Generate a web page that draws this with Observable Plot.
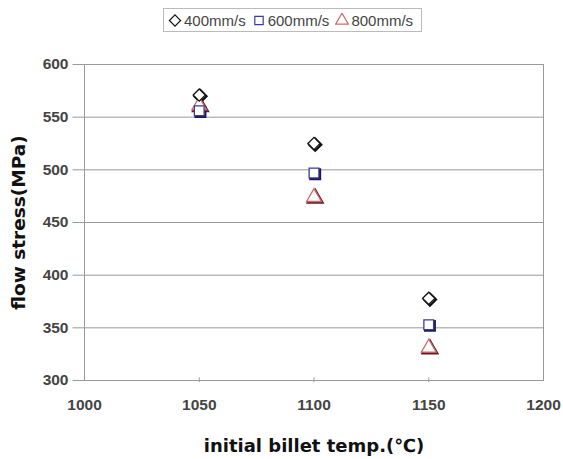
<!DOCTYPE html>
<html><head><meta charset="utf-8">
<script src="https://cdn.jsdelivr.net/npm/d3@7"></script>
<script src="https://cdn.jsdelivr.net/npm/@observablehq/plot@0.6"></script>
<style>
body{margin:0;background:#fff;font-family:"Liberation Sans",Arial,sans-serif;}
#legend{height:38px;position:relative;}
#legend .box{position:absolute;left:163px;top:8px;height:22px;border:1px solid #bbb;display:flex;align-items:center;padding:0 8px 0 4px;font-size:15px;color:#444;white-space:nowrap;}
#legend .item{display:flex;align-items:center;margin-right:6px;}
#legend .item:last-child{margin-right:0;}
#legend svg{margin-right:2px;}
</style></head><body>
<div id="legend"></div>
<div id="chart"></div>
<script>
const temps = [1050, 1100, 1150];
const series = ["400mm/s", "600mm/s", "800mm/s"];
const v400 = [571, 525, 378];
const v600 = [556, 497, 353];
const v800 = [561, 474, 331];
const xTicks = [1000, 1050, 1100, 1150, 1200];
const yTicks = [300, 350, 400, 450, 500, 550, 600];

const symbols = {"400mm/s": "diamond2", "600mm/s": "square", "800mm/s": "triangle"};
const colors = {"400mm/s": "#111111", "600mm/s": "#3a3aa8", "800mm/s": "#d46a6a"};
const shadows = {"400mm/s": "#111111", "600mm/s": "#1a1a50", "800mm/s": "#5a2020"};

const data = [];
[v400, v600, v800].forEach((vals, si) => {
  vals.forEach((v, i) => data.push({temp: temps[i], stress: v, series: series[si]}));
});

// legend
const leg = d3.select("#legend").append("div").attr("class","box");
series.forEach(s => {
  const it = leg.append("div").attr("class","item");
  const sv = it.append("svg").attr("width",14).attr("height",14);
  const sym = d3.symbol().type(s==="400mm/s"?d3.symbolDiamond2:s==="600mm/s"?d3.symbolSquare:d3.symbolTriangle).size(s==="400mm/s"?80:70)();
  sv.append("path").attr("d",sym).attr("transform","translate(7,7.5)").attr("fill","none").attr("stroke",colors[s]).attr("stroke-width",1.2);
  it.append("span").text(s);
});

const order = ["800mm/s","600mm/s","400mm/s"];
const sorted = order.flatMap(s => data.filter(d => d.series === s));

const titleFont = "'DejaVu Sans', 'Liberation Sans', sans-serif";

const plot = Plot.plot({
  width: 563,
  height: 421,
  marginLeft: 84,
  marginRight: 20,
  marginTop: 26,
  marginBottom: 79,
  style: {fontFamily: "'Liberation Sans', Arial, sans-serif", background: "#fff"},
  x: {domain: [1000, 1200], ticks: xTicks, label: null, tickSize: 0, tickFormat: "d"},
  y: {domain: [300, 600], ticks: yTicks, label: null, tickSize: 0},
  marks: [
    Plot.gridY(yTicks.filter(t => t > 300 && t < 600), {stroke: "#999", strokeOpacity: 1, strokeWidth: 1}),
    Plot.frame({stroke: "#999", strokeWidth: 1}),
    Plot.ruleX(xTicks.slice(1, -1), {x: d => d, y1: 298, y2: 302.5, stroke: "#999", clip: false}),
    Plot.ruleY(yTicks, {y: d => d, x1: 995, x2: 1000, stroke: "#999", clip: false}),
    Plot.axisX(xTicks, {tickSize: 0, tickPadding: 18, fontSize: 15.5, fontWeight: "bold", fill: "#444", tickFormat: "d"}),
    Plot.axisY(yTicks, {tickSize: 0, tickPadding: 16, fontSize: 15.5, fontWeight: "bold", fill: "#444"}),
    // shadows
    Plot.dot(sorted, {x: "temp", y: "stress", symbol: d => symbols[d.series], r: 5.5, dx: 1.2, dy: 1.2, fill: "none", stroke: d => shadows[d.series], strokeWidth: 2.2}),
    Plot.dot(sorted, {x: "temp", y: "stress", symbol: d => symbols[d.series], r: 5.5, fill: "white", stroke: d => colors[d.series], strokeWidth: 1.3}),
    Plot.text(["flow stress(MPa)"], {frameAnchor: "left", textAnchor: "middle", lineAnchor: "middle", dx: -65, rotate: -90, fontSize: 18.5, fontWeight: "bold", fill: "#111", fontFamily: titleFont}),
    Plot.text(["initial billet temp.(℃)"], {frameAnchor: "bottom", textAnchor: "middle", lineAnchor: "middle", dy: 66, fontSize: 18, fontWeight: "bold", fill: "#111", fontFamily: titleFont})
  ]
});
document.getElementById("chart").appendChild(plot);
</script>
</body></html>
